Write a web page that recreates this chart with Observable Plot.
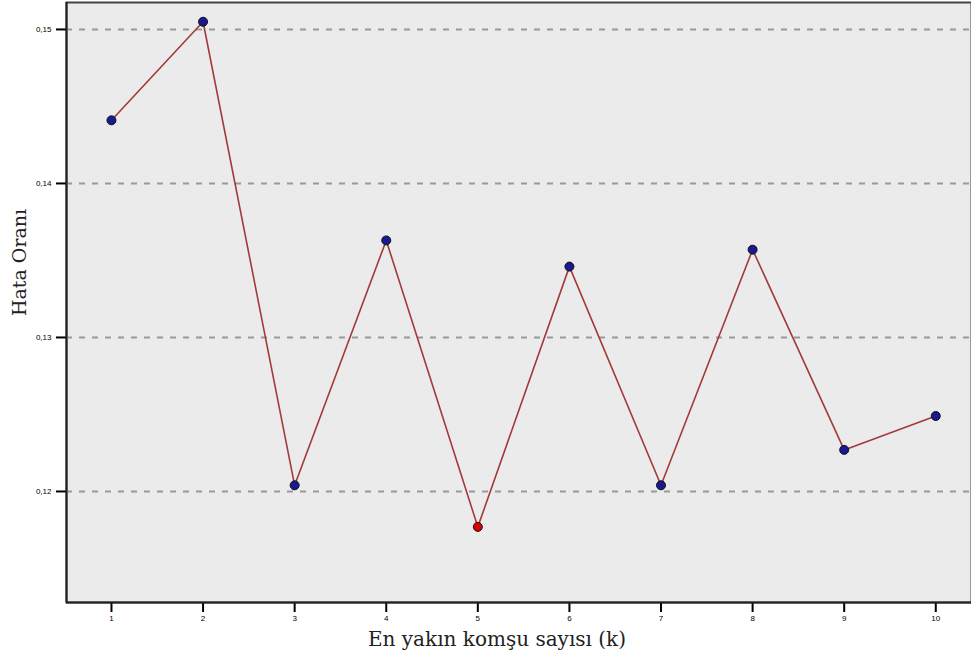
<!DOCTYPE html>
<html><head><meta charset="utf-8">
<script src="https://cdn.jsdelivr.net/npm/d3@7"></script>
<script src="https://cdn.jsdelivr.net/npm/@observablehq/plot@0.6"></script>
<style>body{margin:0;background:#fff;overflow:hidden}</style>
</head><body><div id="chart"></div>
<script>
const kValues = [1,2,3,4,5,6,7,8,9,10];
const errorRates = [0.1441,0.1505,0.1204,0.1363,0.1177,0.1346,0.1204,0.1357,0.1227,0.1249];
const yTicks = [0.12,0.13,0.14,0.15];
const bestK = 5;
const data = kValues.map((k,i)=>({k, e: errorRates[i], best: k===bestK}));
const fmt = d => d.toFixed(2).replace(".", ",");
const chart = Plot.plot({
  width: 971, height: 662,
  marginLeft: 66, marginRight: 0, marginTop: 2, marginBottom: 60,
  style: {background: "#fff", fontFamily: "Liberation Sans, sans-serif"},
  x: {domain: [0.509, 10.39], ticks: kValues, tickFormat: d => String(d), label: null},
  y: {domain: [0.11279, 0.15175], ticks: yTicks, tickFormat: fmt, label: null},
  marks: [
    Plot.frame({fill: "#ebebeb", stroke: "#444", strokeWidth: 2}),
    Plot.gridY(yTicks, {stroke: "#999", strokeOpacity: 1, strokeWidth: 2, strokeDasharray: "6,7"}),
    Plot.axisY(yTicks, {tickSize: 10, strokeWidth: 2, fontSize: 8, tickPadding: 5, tickFormat: fmt, label: null}),
    Plot.axisX(kValues, {tickSize: 10, strokeWidth: 2, fontSize: 8, tickPadding: 3, label: null}),
    Plot.ruleX([0.509], {stroke: "#222", strokeWidth: 2}),
    Plot.ruleY([0.11279], {stroke: "#222", strokeWidth: 2}),
    Plot.line(data, {x: "k", y: "e", stroke: "#a33a3a", strokeWidth: 1.6}),
    Plot.dot(data, {x: "k", y: "e", r: 4.5, fill: d => d.best ? "#dd0000" : "#1a1a90", stroke: "#111", strokeWidth: 1}),
    Plot.text(["En yakın komşu sayısı (k)"], {frameAnchor: "bottom", dx: -22, dy: 43, fontSize: 20, fontFamily: "DejaVu Serif, serif", fill: "#222"}),
    Plot.text(["Hata Oranı"], {x: 0.509, y: 0.13487, dx: -47, rotate: -90, fontSize: 19, fontFamily: "DejaVu Serif, serif", fill: "#222"})
  ]
});
document.getElementById("chart").appendChild(chart);
</script>
</body></html>
